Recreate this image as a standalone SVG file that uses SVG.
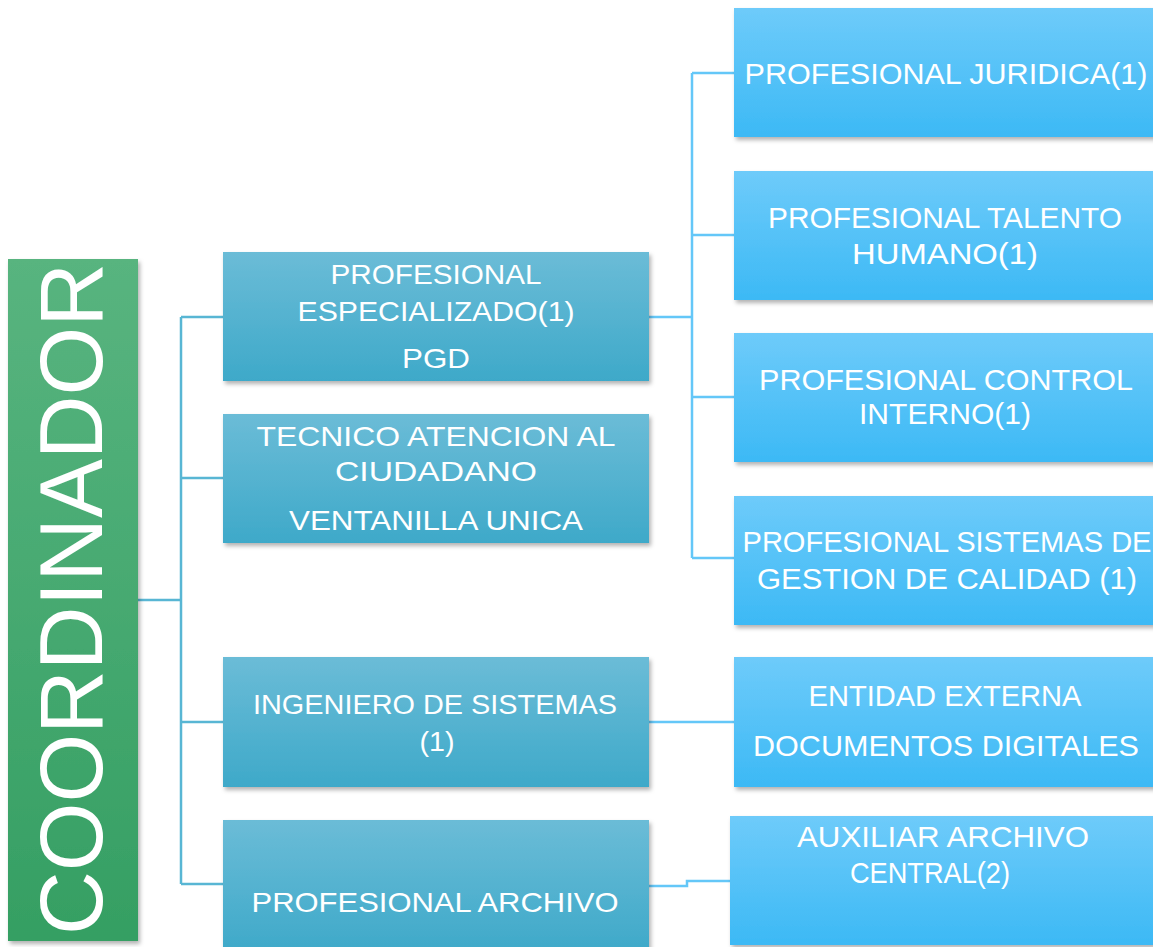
<svg xmlns="http://www.w3.org/2000/svg" width="1153" height="947" viewBox="0 0 1153 947">
  <style>
    .lbl { font-family: "Liberation Sans", Arial, sans-serif; fill: #ffffff; text-anchor: middle; }
    .mid { font-size: 28px; }
    .rt { font-size: 29px; }
    .conn { fill: none; stroke-width: 2.5; }
    .c1 { stroke: #58b6d4; }
    .c2 { stroke: #64c7f8; }
  </style>
  <defs>
    <linearGradient id="gGreen" x1="0" y1="0" x2="0" y2="1">
      <stop offset="0" stop-color="#58b47f"/>
      <stop offset="1" stop-color="#359f63"/>
    </linearGradient>
    <linearGradient id="gTeal" x1="0" y1="0" x2="0" y2="1">
      <stop offset="0" stop-color="#6bbcd7"/>
      <stop offset="1" stop-color="#3ea9c9"/>
    </linearGradient>
    <linearGradient id="gSky" x1="0" y1="0" x2="0" y2="1">
      <stop offset="0" stop-color="#6ecbfa"/>
      <stop offset="1" stop-color="#3cb9f5"/>
    </linearGradient>
    <filter id="shadow" x="-5%" y="-5%" width="115%" height="120%">
      <feDropShadow dx="2" dy="3" stdDeviation="2" flood-color="#000" flood-opacity="0.3"/>
    </filter>
  </defs>
  <rect width="1153" height="947" fill="#ffffff"/>

  <!-- connectors -->
  <g id="connectors">
    <path class="conn c1" d="M138 600 H181 M181 317 V884 M181 317 H223 M181 478 H223 M181 722 H223 M181 884 H223"/>
    <path class="conn c2" d="M649 317 H692 M692 73 V558 M692 73 H734 M692 235 H734 M692 397 H734 M692 558 H734"/>
    <path class="conn c2" d="M649 722 H734"/>
    <path class="conn c2" d="M649 886 H687 V881 H730"/>
  </g>

  <!-- coordinator -->
  <g id="coordinador">
    <rect x="8" y="259" width="130" height="682" fill="url(#gGreen)" filter="url(#shadow)"/>
    <text class="lbl" transform="translate(102 599) rotate(-90)" font-size="89" textLength="672" lengthAdjust="spacingAndGlyphs">COORDINADOR</text>
  </g>

  <!-- second level -->
  <g id="profesional-especializado">
    <rect x="223" y="252" width="426" height="129" fill="url(#gTeal)" filter="url(#shadow)"/>
    <text class="lbl mid" x="436" y="284" textLength="211" lengthAdjust="spacingAndGlyphs">PROFESIONAL</text>
    <text class="lbl mid" x="436" y="321" textLength="277" lengthAdjust="spacingAndGlyphs">ESPECIALIZADO(1)</text>
    <text class="lbl mid" x="436" y="368" textLength="68" lengthAdjust="spacingAndGlyphs">PGD</text>
  </g>
  <g id="tecnico-atencion">
    <rect x="223" y="414" width="426" height="129" fill="url(#gTeal)" filter="url(#shadow)"/>
    <text class="lbl mid" x="436" y="446" textLength="359" lengthAdjust="spacingAndGlyphs">TECNICO ATENCION AL</text>
    <text class="lbl mid" x="436" y="481" textLength="202" lengthAdjust="spacingAndGlyphs">CIUDADANO</text>
    <text class="lbl mid" x="436" y="530" textLength="294" lengthAdjust="spacingAndGlyphs">VENTANILLA UNICA</text>
  </g>
  <g id="ingeniero-sistemas">
    <rect x="223" y="657" width="426" height="130" fill="url(#gTeal)" filter="url(#shadow)"/>
    <text class="lbl mid" x="435" y="714" textLength="364" lengthAdjust="spacingAndGlyphs">INGENIERO DE SISTEMAS</text>
    <text class="lbl mid" x="437" y="751" textLength="35" lengthAdjust="spacingAndGlyphs">(1)</text>
  </g>
  <g id="profesional-archivo">
    <rect x="223" y="820" width="426" height="132" fill="url(#gTeal)" filter="url(#shadow)"/>
    <text class="lbl mid" x="435" y="912" textLength="367" lengthAdjust="spacingAndGlyphs">PROFESIONAL ARCHIVO</text>
  </g>

  <!-- third level -->
  <g id="profesional-juridica">
    <rect x="734" y="8" width="425" height="129" fill="url(#gSky)" filter="url(#shadow)"/>
    <text class="lbl rt" x="946" y="84" textLength="403" lengthAdjust="spacingAndGlyphs">PROFESIONAL JURIDICA(1)</text>
  </g>
  <g id="profesional-talento">
    <rect x="734" y="171" width="425" height="129" fill="url(#gSky)" filter="url(#shadow)"/>
    <text class="lbl rt" x="945" y="228" textLength="354" lengthAdjust="spacingAndGlyphs">PROFESIONAL TALENTO</text>
    <text class="lbl rt" x="945" y="264" textLength="186" lengthAdjust="spacingAndGlyphs">HUMANO(1)</text>
  </g>
  <g id="profesional-control">
    <rect x="734" y="333" width="425" height="129" fill="url(#gSky)" filter="url(#shadow)"/>
    <text class="lbl rt" x="946" y="390" textLength="374" lengthAdjust="spacingAndGlyphs">PROFESIONAL CONTROL</text>
    <text class="lbl rt" x="945" y="424" textLength="172" lengthAdjust="spacingAndGlyphs">INTERNO(1)</text>
  </g>
  <g id="profesional-sistemas-calidad">
    <rect x="734" y="496" width="425" height="129" fill="url(#gSky)" filter="url(#shadow)"/>
    <text class="lbl rt" x="947" y="552" textLength="409" lengthAdjust="spacingAndGlyphs">PROFESIONAL SISTEMAS DE</text>
    <text class="lbl rt" x="947" y="589" textLength="380" lengthAdjust="spacingAndGlyphs">GESTION DE CALIDAD (1)</text>
  </g>
  <g id="entidad-externa">
    <rect x="734" y="657" width="425" height="130" fill="url(#gSky)" filter="url(#shadow)"/>
    <text class="lbl rt" x="945" y="706" textLength="273" lengthAdjust="spacingAndGlyphs">ENTIDAD EXTERNA</text>
    <text class="lbl rt" x="946" y="756" textLength="386" lengthAdjust="spacingAndGlyphs">DOCUMENTOS DIGITALES</text>
  </g>
  <g id="auxiliar-archivo">
    <rect x="730" y="816" width="429" height="129" fill="url(#gSky)" filter="url(#shadow)"/>
    <text class="lbl rt" x="943" y="847" textLength="292" lengthAdjust="spacingAndGlyphs">AUXILIAR ARCHIVO</text>
    <text class="lbl rt" x="930" y="883" font-size="28" textLength="160" lengthAdjust="spacingAndGlyphs">CENTRAL(2)</text>
  </g>
</svg>
